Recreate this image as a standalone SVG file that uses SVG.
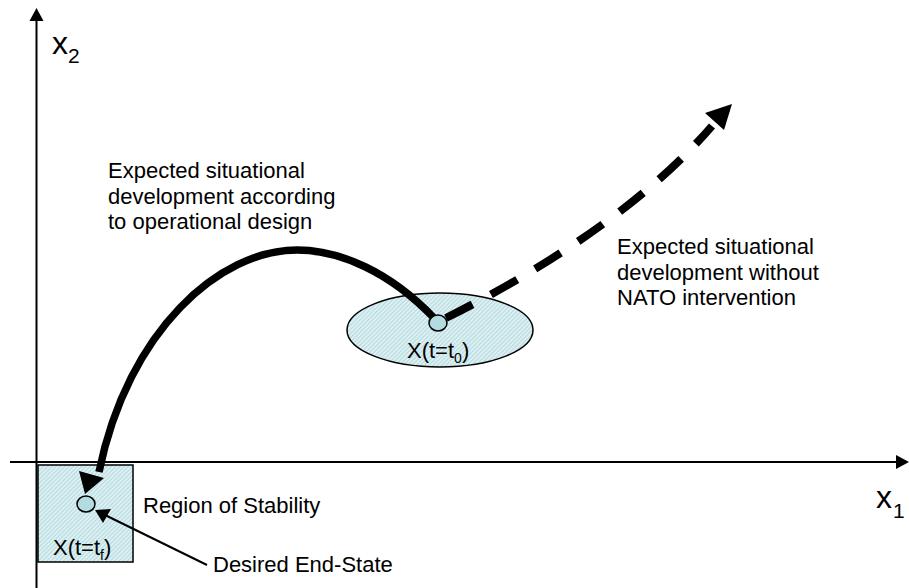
<svg xmlns="http://www.w3.org/2000/svg" width="909" height="588" viewBox="0 0 909 588">
  <defs>
    <pattern id="hatch" width="3" height="3" patternUnits="userSpaceOnUse" patternTransform="rotate(45)">
      <rect width="3" height="3" fill="#e4f3f5"/>
      <line x1="0.75" y1="0" x2="0.75" y2="3" stroke="#a6d3da" stroke-width="1"/>
    </pattern>
    <marker id="endHead" viewBox="0 0 10 10" refX="9" refY="5" markerWidth="8" markerHeight="7" markerUnits="userSpaceOnUse" orient="auto">
      <path d="M0,0 L10,5 L0,10 Z" fill="#000"/>
    </marker>
  </defs>
  <style>
    text { font-family: "Liberation Sans", Arial, sans-serif; font-size: 22px; fill: #000; }
    .axis { stroke: #000; stroke-width: 2; fill: none; }
    .state { fill: #b2dcdf; stroke: #000; stroke-width: 1.5; }
    .region { fill: url(#hatch); stroke: #000; stroke-width: 1.5; }
    .big { font-size: 32px; }
    .bigsub { font-size: 21px; }
    .sub { font-size: 14px; }
  </style>

  <g id="region-of-stability">
    <rect class="region" x="38" y="465" width="95" height="97"/>
  </g>

  <g id="start-region">
    <ellipse class="region" cx="440" cy="330" rx="93" ry="37"/>
  </g>

  <g id="axes">
    <line class="axis" x1="36.5" y1="18" x2="36.5" y2="588"/>
    <polygon points="36.5,8 29.5,21 43.5,21" fill="#000"/>
    <line class="axis" x1="10" y1="462" x2="899" y2="462"/>
    <polygon points="909,462 896,455 896,469" fill="#000"/>
    <text class="big" x="52" y="54">x</text>
    <text class="bigsub" x="68" y="63">2</text>
    <text class="big" x="876" y="508">x</text>
    <text class="bigsub" x="893" y="518">1</text>
  </g>

  <g id="connectors">
    <path d="M 434,318 C 390,272 340,250 297,250 C 220,250 128,330 99,472" fill="none" stroke="#000" stroke-width="7.5"/>
    <polygon points="85,494 79,471 104,478" fill="#000"/>
    <path d="M 446,318 C 530,276 640,210 712,126" fill="none" stroke="#000" stroke-width="8" stroke-dasharray="30 21"/>
    <polygon points="732,104 724,130 705,113" fill="#000"/>
    <line x1="207" y1="565" x2="105" y2="515" stroke="#000" stroke-width="2"/>
    <polygon points="95,510 111,509 103,523" fill="#000"/>
  </g>

  <g id="state-t0">
    <ellipse class="state" cx="438" cy="323" rx="9" ry="8"/>
    <text x="407" y="358">X(t=t<tspan class="sub" dy="5">0</tspan><tspan dy="-5">)</tspan></text>
  </g>

  <g id="state-tf">
    <ellipse class="state" cx="86" cy="504" rx="9" ry="8"/>
    <text x="53" y="555">X(t=t<tspan class="sub" dy="5">f</tspan><tspan dy="-5">)</tspan></text>
  </g>

  <g id="labels">
    <text x="108" y="178">Expected situational</text>
    <text x="108" y="203.5">development according</text>
    <text x="108" y="229">to operational design</text>
    <text x="617" y="254">Expected situational</text>
    <text x="617" y="279.5">development without</text>
    <text x="617" y="305">NATO intervention</text>
    <text x="143" y="513">Region of Stability</text>
    <text x="213" y="572">Desired End-State</text>
  </g>
</svg>
